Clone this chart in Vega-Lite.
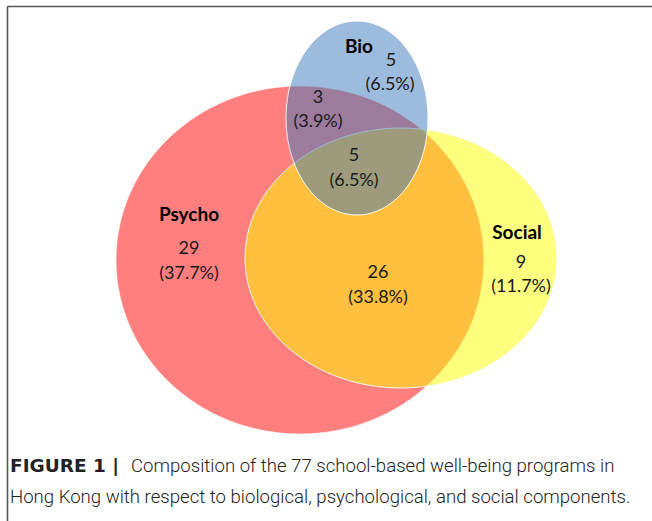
{
  "$schema": "https://vega.github.io/schema/vega-lite/v6.json",
  "width": 652,
  "height": 521,
  "padding": 0,
  "autosize": {"type": "none"},
  "background": "white",
  "config": {"view": {"stroke": null}},
  "datasets": {
    "sets": [
      {"set": "Psycho", "cx": 300, "cy": 260},
      {"set": "Social", "cx": 401, "cy": 258},
      {"set": "Bio", "cx": 357, "cy": 118}
    ],
    "labels": [
      {"text": "Bio", "x": 359, "y": 47, "kind": "name"},
      {"text": "5", "x": 391, "y": 61, "kind": "num"},
      {"text": "(6.5%)", "x": 390, "y": 85, "kind": "num"},
      {"text": "3", "x": 318, "y": 98, "kind": "num"},
      {"text": "(3.9%)", "x": 318, "y": 122, "kind": "num"},
      {"text": "5", "x": 354, "y": 156, "kind": "num"},
      {"text": "(6.5%)", "x": 354, "y": 181, "kind": "num"},
      {"text": "Psycho", "x": 189, "y": 215, "kind": "name"},
      {"text": "29", "x": 189, "y": 249, "kind": "num"},
      {"text": "(37.7%)", "x": 189, "y": 274, "kind": "num"},
      {"text": "Social", "x": 517, "y": 233, "kind": "name"},
      {"text": "9", "x": 521, "y": 263, "kind": "num"},
      {"text": "(11.7%)", "x": 521, "y": 287, "kind": "num"},
      {"text": "26", "x": 378, "y": 273, "kind": "num"},
      {"text": "(33.8%)", "x": 378, "y": 298, "kind": "num"}
    ],
    "caption": [
      {"text": "FIGURE 1 |", "x": 10, "y": 466, "kind": "bold"},
      {"text": "Composition of the 77 school-based well-being programs in", "x": 131, "y": 466, "kind": "plain"},
      {"text": "Hong Kong with respect to biological, psychological, and social components.", "x": 10, "y": 497, "kind": "plain"}
    ],
    "frame": [
      {"x": 7.5, "y": 6.5, "x2": 652, "y2": 6.5},
      {"x": 7.5, "y": 6.5, "x2": 7.5, "y2": 521}
    ]
  },
  "layer": [
    {
      "data": {"name": "frame"},
      "mark": {"type": "rule", "color": "#555555", "strokeWidth": 1.6},
      "encoding": {
        "x": {"field": "x", "type": "quantitative", "scale": {"domain": [0, 652], "nice": false, "zero": false}, "axis": null},
        "y": {"field": "y", "type": "quantitative", "scale": {"domain": [0, 521], "nice": false, "zero": false, "reverse": true}, "axis": null},
        "x2": {"field": "x2"},
        "y2": {"field": "y2"}
      }
    },
    {
      "data": {"name": "sets"},
      "transform": [{"filter": "datum.set === 'Psycho'"}],
      "mark": {"type": "point", "filled": true, "fill": "#FF0000", "fillOpacity": 0.5, "opacity": 1, "stroke": "white", "strokeWidth": 1, "strokeOpacity": 0.6, "size": 135424,
        "shape": "M -1 0 C -1 -0.5223 -0.5523 -0.9457 0 -0.9457 C 0.5523 -0.9457 1 -0.5223 1 0 C 1 0.5223 0.5523 0.9457 0 0.9457 C -0.5523 0.9457 -1 0.5223 -1 0 Z"},
      "encoding": {
        "x": {"field": "cx", "type": "quantitative"},
        "y": {"field": "cy", "type": "quantitative"}
      }
    },
    {
      "data": {"name": "sets"},
      "transform": [{"filter": "datum.set === 'Social'"}],
      "mark": {"type": "point", "filled": true, "fill": "#FFFF00", "fillOpacity": 0.5, "opacity": 1, "stroke": "white", "strokeWidth": 1, "strokeOpacity": 0.9, "size": 97344,
        "shape": "M -1 0 C -1 -0.4603 -0.5523 -0.8333 0 -0.8333 C 0.5523 -0.8333 1 -0.4603 1 0 C 1 0.4603 0.5523 0.8333 0 0.8333 C -0.5523 0.8333 -1 0.4603 -1 0 Z"},
      "encoding": {
        "x": {"field": "cx", "type": "quantitative"},
        "y": {"field": "cy", "type": "quantitative"}
      }
    },
    {
      "data": {"name": "sets"},
      "transform": [{"filter": "datum.set === 'Bio'"}],
      "mark": {"type": "point", "filled": true, "fill": "#3B77B9", "fillOpacity": 0.5, "opacity": 1, "stroke": "white", "strokeWidth": 1, "strokeOpacity": 0.9, "size": 37636,
        "shape": "M -0.732 0 C -0.732 -0.5523 -0.4043 -1 0 -1 C 0.4043 -1 0.732 -0.5523 0.732 0 C 0.732 0.5523 0.4043 1 0 1 C -0.4043 1 -0.732 0.5523 -0.732 0 Z"},
      "encoding": {
        "x": {"field": "cx", "type": "quantitative"},
        "y": {"field": "cy", "type": "quantitative"}
      }
    },
    {
      "data": {"name": "labels"},
      "transform": [{"filter": "datum.kind === 'num'"}],
      "mark": {"type": "text", "font": "Lato", "fontSize": 18, "color": "#1a1a1a", "align": "center", "baseline": "middle"},
      "encoding": {
        "x": {"field": "x", "type": "quantitative"},
        "y": {"field": "y", "type": "quantitative"},
        "text": {"field": "text"}
      }
    },
    {
      "data": {"name": "labels"},
      "transform": [{"filter": "datum.kind === 'name'"}],
      "mark": {"type": "text", "font": "Lato", "fontSize": 19, "fontWeight": "bold", "color": "#000000", "align": "center", "baseline": "middle"},
      "encoding": {
        "x": {"field": "x", "type": "quantitative"},
        "y": {"field": "y", "type": "quantitative"},
        "text": {"field": "text"}
      }
    },
    {
      "data": {"name": "caption"},
      "transform": [{"filter": "datum.kind === 'bold'"}],
      "mark": {"type": "text", "font": "DejaVu Sans", "fontSize": 18.5, "fontWeight": "bold", "color": "#222222", "align": "left", "baseline": "middle"},
      "encoding": {
        "x": {"field": "x", "type": "quantitative"},
        "y": {"field": "y", "type": "quantitative"},
        "text": {"field": "text"}
      }
    },
    {
      "data": {"name": "caption"},
      "transform": [{"filter": "datum.kind === 'plain'"}],
      "mark": {"type": "text", "font": "Roboto", "fontSize": 18.6, "fontWeight": 300, "color": "#222222", "align": "left", "baseline": "middle"},
      "encoding": {
        "x": {"field": "x", "type": "quantitative"},
        "y": {"field": "y", "type": "quantitative"},
        "text": {"field": "text"}
      }
    }
  ]
}
